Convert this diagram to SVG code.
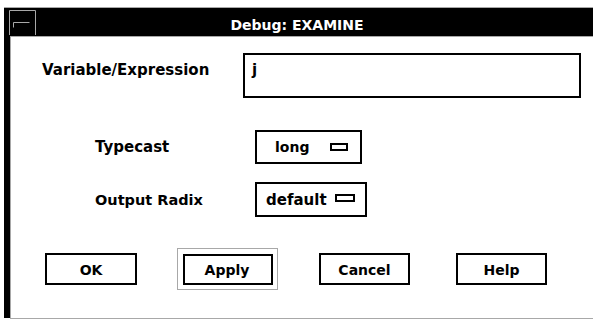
<svg xmlns="http://www.w3.org/2000/svg" width="593" height="320" viewBox="0 0 593 320">
<style>
text{font-family:"DejaVu Sans",Verdana,sans-serif;font-weight:bold;fill:#000}
.btn{fill:#fff;stroke:#000;stroke-width:2}
.lbl{font-size:15px}
.bt{font-size:14px;text-anchor:middle}
.gray{stroke:#a8a8a8;stroke-width:1;fill:none}
</style>
<rect width="593" height="320" fill="#fff"/>
<g id="frame">
<rect x="4" y="7.5" width="589" height="28.5" fill="#000"/>
<rect x="4" y="8" width="6.5" height="310" fill="#000"/>
<line class="gray" x1="4" y1="7.5" x2="593" y2="7.5"/>
<line class="gray" x1="10.5" y1="36.5" x2="593" y2="36.5"/>
<line class="gray" x1="10.5" y1="36" x2="10.5" y2="318"/>
<line class="gray" x1="10" y1="318.5" x2="593" y2="318.5"/>
<path class="gray" d="M9.5 35V10.5H35.5V35"/>
<path class="gray" d="M13.5 27.5V22.5H29.5"/>
<text x="297" y="30" font-size="14" text-anchor="middle" style="fill:#fff">Debug: EXAMINE</text>
</g>
<g id="variable">
<text class="lbl" x="42" y="75">Variable/Expression</text>
<rect class="btn" x="244" y="54" width="336" height="43"/>
<text class="lbl" x="252" y="75">j</text>
</g>
<g id="typecast">
<text class="lbl" x="95" y="152">Typecast</text>
<rect class="btn" x="256" y="131" width="105" height="32"/>
<text class="lbl" x="275" y="152" style="font-size:14px">long</text>
<rect class="btn" x="331" y="144" width="16" height="6"/>
</g>
<g id="radix">
<text class="lbl" x="95" y="205" style="font-size:14.5px">Output Radix</text>
<rect class="btn" x="256" y="183" width="110" height="33"/>
<text class="lbl" x="266" y="205">default</text>
<rect class="btn" x="336" y="195" width="18" height="6"/>
</g>
<g id="ok">
<rect class="btn" x="46" y="254" width="90" height="30"/>
<text class="bt" x="91" y="275">OK</text>
</g>
<g id="apply">
<rect class="gray" x="177.5" y="248.5" width="100" height="41"/>
<rect class="btn" x="184" y="255" width="88" height="29"/>
<text class="bt" x="227" y="275">Apply</text>
</g>
<g id="cancel">
<rect class="btn" x="320" y="254" width="89" height="30"/>
<text class="bt" x="364.5" y="275">Cancel</text>
</g>
<g id="help">
<rect class="btn" x="457" y="254" width="89" height="30"/>
<text class="bt" x="501.5" y="275">Help</text>
</g>
<g id="connectors"/>
</svg>
